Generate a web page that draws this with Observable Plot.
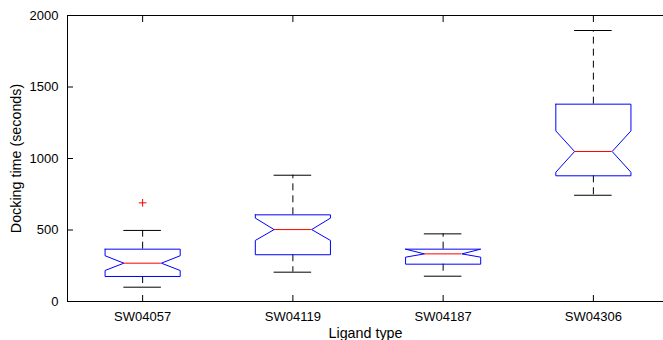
<!DOCTYPE html>
<html>
<head>
<meta charset="utf-8">
<script src="https://cdn.jsdelivr.net/npm/d3@7"></script>
<script src="https://cdn.jsdelivr.net/npm/@observablehq/plot@0.6"></script>
<style>
  html, body { margin: 0; padding: 0; background: white; }
</style>
</head>
<body>
<div id="chart"></div>
<script>
const categories = ["SW04057", "SW04119", "SW04187", "SW04306"];
const q1        = [175, 327, 261, 879];
const q3        = [366, 606, 366, 1380];
const medians   = [268, 503, 333, 1049];
const notchLo   = [217, 427, 310, 904];
const notchHi   = [320, 583, 366, 1193];
const whiskerLo = [100, 205, 177, 743];
const whiskerHi = [497, 883, 473, 1895];
const outlierBox   = [1];
const outlierValue = [690];
const yTicks = [0, 500, 1000, 1500, 2000];

const boxHalf = 0.25, notchHalf = 0.125, capHalf = 0.125;

const boxes = categories.map((c, i) => ({
  pos: i + 1, q1: q1[i], q3: q3[i], med: medians[i],
  nlo: notchLo[i], nhi: notchHi[i], wlo: whiskerLo[i], whi: whiskerHi[i]
}));

const outline = boxes.flatMap((b, i) => {
  const c = b.pos;
  const pts = [
    [c - boxHalf, b.q3], [c + boxHalf, b.q3], [c + boxHalf, b.nhi],
    [c + notchHalf, b.med], [c + boxHalf, b.nlo], [c + boxHalf, b.q1],
    [c - boxHalf, b.q1], [c - boxHalf, b.nlo], [c - notchHalf, b.med],
    [c - boxHalf, b.nhi], [c - boxHalf, b.q3]
  ];
  return pts.map(([x, y]) => ({x, y, box: i}));
});

const outliers = outlierBox.map((p, i) => ({pos: p, value: outlierValue[i]}));

const chart = Plot.plot({
  width: 663,
  height: 340,
  marginLeft: 67,
  marginTop: 15,
  marginBottom: 39,
  marginRight: 0,
  x: {domain: [0.5, 4.5], range: [67, 668]},
  y: {domain: [0, 2000], range: [301, 15]},
  style: {fontFamily: "'Liberation Sans', Arial, Helvetica, sans-serif", fontSize: "13px", background: "white", color: "black"},
  marks: [
    // frame
    Plot.ruleY([0, 2000], {x1: 0.5, x2: 4.5, stroke: "black"}),
    Plot.ruleX([0.5], {y1: 0, y2: 2000, stroke: "black"}),
    // inward ticks
    Plot.axisY({ticks: yTicks, anchor: "left", tickSize: 6, dx: 6, tickFormat: () => "", label: null}),
    Plot.axisY({ticks: yTicks, anchor: "right", tickSize: 6, dx: -1, tickFormat: () => "", label: null}),
    Plot.axisX({ticks: [1, 2, 3, 4], anchor: "bottom", tickSize: 6, dy: -6, tickFormat: () => "", label: null}),
    Plot.axisX({ticks: [1, 2, 3, 4], anchor: "top", tickSize: 6, dy: 6, tickFormat: () => "", label: null}),
    // tick labels
    Plot.axisY({ticks: yTicks, anchor: "left", tickSize: 0, tickPadding: 9, label: null, tickFormat: d => String(d)}),
    Plot.axisX({ticks: [1, 2, 3, 4], anchor: "bottom", tickSize: 0, tickPadding: 10, label: null, tickFormat: d => categories[d - 1]}),
    // whiskers (dashed)
    Plot.ruleX(boxes, {x: "pos", y1: "q3", y2: "whi", stroke: "black", strokeDasharray: "7,5"}),
    Plot.ruleX(boxes, {x: "pos", y1: "q1", y2: "wlo", stroke: "black", strokeDasharray: "7,5"}),
    // whisker caps
    Plot.ruleY(boxes, {y: "whi", x1: d => d.pos - capHalf, x2: d => d.pos + capHalf, stroke: "black"}),
    Plot.ruleY(boxes, {y: "wlo", x1: d => d.pos - capHalf, x2: d => d.pos + capHalf, stroke: "black"}),
    // notched boxes
    Plot.line(outline, {x: "x", y: "y", z: "box", stroke: "#0000ff", strokeWidth: 1}),
    // medians
    Plot.ruleY(boxes, {y: "med", x1: d => d.pos - notchHalf, x2: d => d.pos + notchHalf, stroke: "#ff0000"}),
    // outliers
    Plot.dot(outliers, {x: "pos", y: "value", symbol: "plus", r: 2.6, stroke: "#ff0000", strokeWidth: 1}),
    // axis titles
    Plot.text(["Docking time (seconds)"], {frameAnchor: "left", rotate: -90, textAnchor: "middle", lineAnchor: "middle", dx: -51, dy: 0, fontSize: 14.3, fill: "black"}),
    Plot.text(["Ligand type"], {frameAnchor: "bottom", textAnchor: "middle", lineAnchor: "middle", dx: 0, dy: 32, fontSize: 14.3, fill: "black"})
  ]
});

document.getElementById("chart").appendChild(chart);
</script>
</body>
</html>
